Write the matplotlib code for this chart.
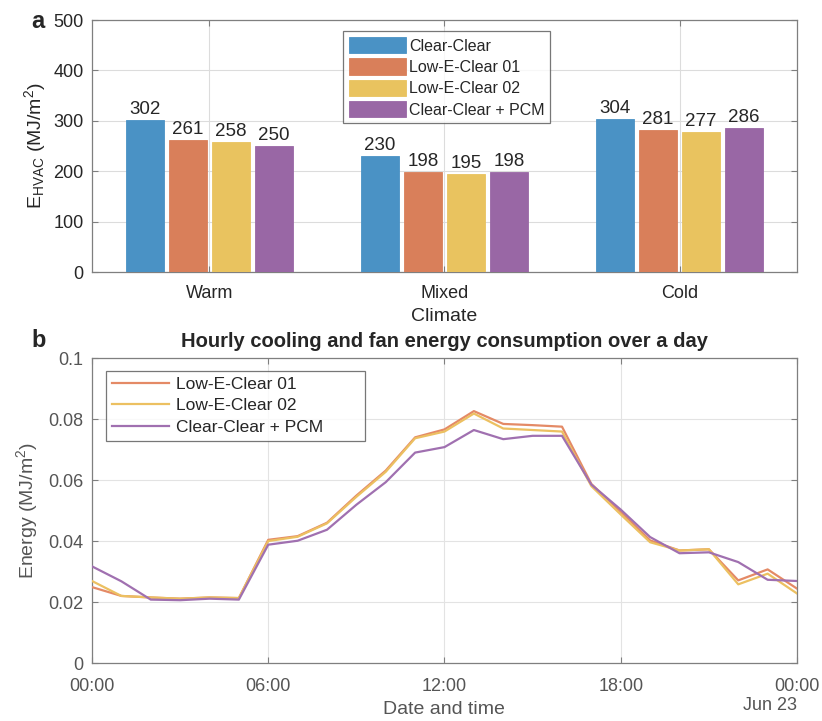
import matplotlib
matplotlib.use("Agg")
import matplotlib.pyplot as plt
import numpy as np

plt.rcParams['font.family'] = ['Liberation Sans', 'DejaVu Sans']
plt.rcParams['mathtext.fontset'] = 'custom'
plt.rcParams['mathtext.rm'] = 'Liberation Sans'
plt.rcParams['mathtext.it'] = 'Liberation Sans'

# ---- panel a data ----
climates = ["Warm", "Mixed", "Cold"]
series_names = ["Clear-Clear", "Low-E-Clear 01", "Low-E-Clear 02", "Clear-Clear + PCM"]
clear_clear = [302, 230, 304]
low_e_01 = [261, 198, 281]
low_e_02 = [258, 195, 277]
clear_pcm = [250, 198, 286]

# ---- panel b data (hourly, 00:00 to 00:00 next day) ----
hours = list(range(25))
hour_low_e_01 = [0.0249, 0.0220, 0.0215, 0.0211, 0.0215, 0.0213, 0.0404, 0.0416, 0.0460,
                 0.0549, 0.0631, 0.0740, 0.0766, 0.0826, 0.0784, 0.0780, 0.0775, 0.0587,
                 0.0496, 0.0402, 0.0369, 0.0373, 0.0271, 0.0307, 0.0244]
hour_low_e_02 = [0.0269, 0.0220, 0.0215, 0.0211, 0.0215, 0.0213, 0.0400, 0.0414, 0.0458,
                 0.0545, 0.0627, 0.0737, 0.0759, 0.0818, 0.0769, 0.0764, 0.0759, 0.0580,
                 0.0487, 0.0396, 0.0369, 0.0373, 0.0258, 0.0293, 0.0228]
hour_pcm = [0.0317, 0.0268, 0.0208, 0.0206, 0.0211, 0.0208, 0.0388, 0.0401, 0.0437,
            0.0519, 0.0593, 0.0690, 0.0708, 0.0764, 0.0734, 0.0745, 0.0745, 0.0585,
            0.0503, 0.0413, 0.0360, 0.0363, 0.0331, 0.0273, 0.0269]
xtick_labels = ["00:00", "06:00", "12:00", "18:00", "00:00"]

bar_colors = ["#4a92c5", "#d97f5a", "#e9c35f", "#9967a5"]
line_colors = ["#e48a66", "#ecc061", "#a070b0"]
text_dark = "#262626"
text_gray = "#555555"
axis_gray = "#7f7f7f"

fig = plt.figure(figsize=(8.22, 7.21), dpi=100)

# ---------------- panel a ----------------
ax1 = fig.add_axes([0.1119, 0.6227, 0.8577, 0.3495])
x = np.arange(1, len(climates) + 1)
pitch = 0.183
width = 0.162
bar_sets = [clear_clear, low_e_01, low_e_02, clear_pcm]
for i, (vals, name, col) in enumerate(zip(bar_sets, series_names, bar_colors)):
    pos = x + (i - 1.5) * pitch
    ax1.bar(pos, vals, width=width, color=col, edgecolor=col, linewidth=0.6,
            label=name, zorder=3)
    for p, v in zip(pos, vals):
        ax1.text(p, v + 4, f"{v}", ha="center", va="bottom", fontsize=13.5,
                 color=text_dark, zorder=4)

ax1.set_xlim(0.5, 3.5)
ax1.set_ylim(0, 500)
ax1.set_xticks(x)
ax1.set_xticklabels(climates)
ax1.set_yticks(np.arange(0, 501, 100))
ax1.set_xlabel("Climate", fontsize=14, color=text_dark, labelpad=5)
ax1.set_ylabel(r"E$_{\mathrm{HVAC}}$ (MJ/m$^2$)", fontsize=14, color=text_dark, labelpad=4)
ax1.grid(True, color="#dcdcdc", linewidth=0.8, zorder=0)
ax1.tick_params(direction="in", top=True, right=True, labelsize=13, colors=axis_gray,
                labelcolor=text_dark, length=4, pad=6)
ax1.tick_params(axis="x", pad=9)
for sp in ax1.spines.values():
    sp.set_color(axis_gray)
    sp.set_linewidth(0.9)
leg1 = ax1.legend(loc="upper left", bbox_to_anchor=(0.356, 0.955), fontsize=11.5,
                  frameon=True, fancybox=False, edgecolor="#555555", handlelength=3.6,
                  handleheight=1.2, handletextpad=0.2, borderpad=0.35, labelspacing=0.3,
                  borderaxespad=0)
leg1.get_frame().set_linewidth(0.9)
for t in leg1.get_texts():
    t.set_color(text_dark)
fig.text(0.038, 0.970, "a", fontsize=17, fontweight="bold", color=text_dark,
         ha="left", va="center")

# ---------------- panel b ----------------
ax2 = fig.add_axes([0.1119, 0.0804, 0.8577, 0.4230])
for vals, name, col in zip([hour_low_e_01, hour_low_e_02, hour_pcm],
                           series_names[1:], line_colors):
    ax2.plot(hours, vals, color=col, linewidth=1.6, label=name, zorder=3)

ax2.set_xlim(0, 24)
ax2.set_ylim(0, 0.1)
ax2.set_xticks([0, 6, 12, 18, 24])
ax2.set_xticklabels(xtick_labels)
ax2.set_yticks([0, 0.02, 0.04, 0.06, 0.08, 0.1])
ax2.set_yticklabels(["0", "0.02", "0.04", "0.06", "0.08", "0.1"])
ax2.grid(True, color="#e3e3e3", linewidth=0.8, zorder=0)
ax2.tick_params(direction="in", top=True, right=True, labelsize=13, colors=axis_gray,
                labelcolor=text_gray, length=4, pad=6)
ax2.tick_params(axis="x", pad=11)
for sp in ax2.spines.values():
    sp.set_color(axis_gray)
    sp.set_linewidth(0.9)
ax2.set_ylabel(r"Energy (MJ/m$^2$)", fontsize=14, color=text_gray, labelpad=6)
fig.text(0.540, 1 - 709 / 721, "Date and time", ha="center", va="center",
         fontsize=14, color=text_gray)
fig.text(797 / 822, 1 - 705 / 721, "Jun 23", ha="right", va="center",
         fontsize=13, color=text_gray)
ax2.set_title("Hourly cooling and fan energy consumption over a day", fontsize=14.5,
              fontweight="bold", color=text_dark, pad=8)
leg2 = ax2.legend(loc="upper left", bbox_to_anchor=(0.0199, 0.722, 0.367, 0.2355),
                  mode="expand", fontsize=12.5,
                  frameon=True, fancybox=False, edgecolor="#555555", handlelength=3.3,
                  handletextpad=0.4, borderpad=0.35, labelspacing=0.35, borderaxespad=0)
leg2.get_frame().set_linewidth(0.9)
for t in leg2.get_texts():
    t.set_color(text_dark)
fig.text(0.038, 0.528, "b", fontsize=17, fontweight="bold", color=text_dark,
         ha="left", va="center")

fig.savefig("out.png", dpi=100)
